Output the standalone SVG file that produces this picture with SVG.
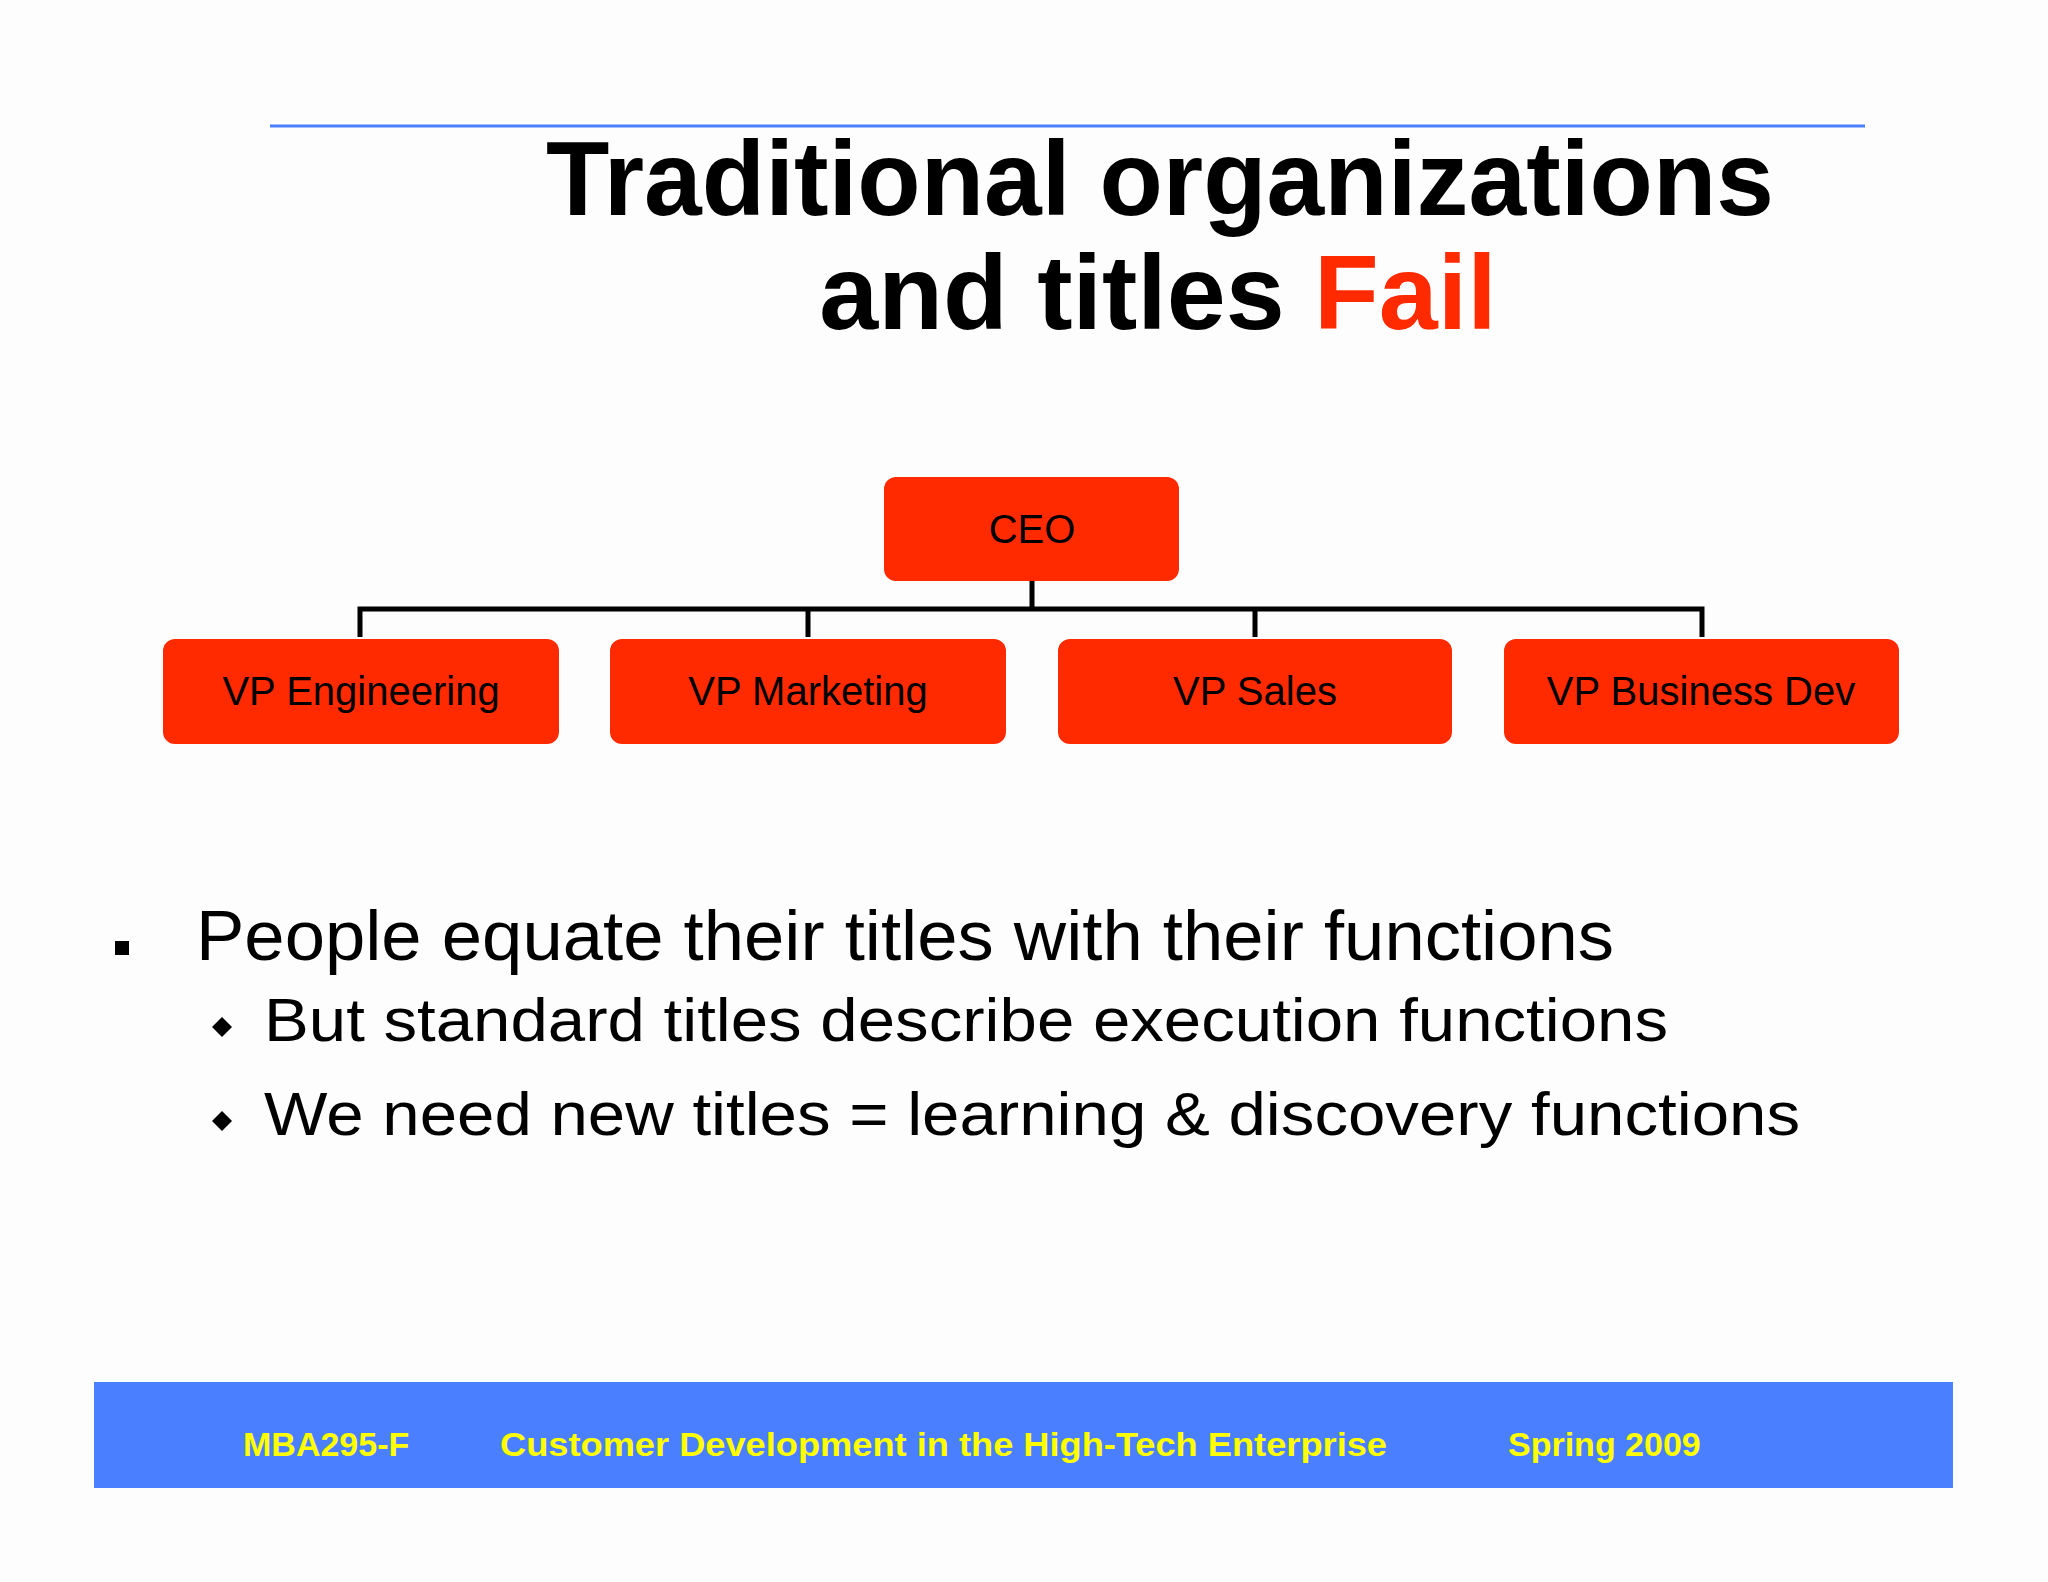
<svg xmlns="http://www.w3.org/2000/svg" width="2048" height="1582" viewBox="0 0 2048 1582">
<style>
.box{fill:#FF2A00}
.bt{font-family:"Liberation Sans",Arial,sans-serif;font-size:40px;fill:#000;text-anchor:middle}
.t{font-family:"Liberation Sans",Arial,sans-serif;font-weight:bold;font-size:106px;text-anchor:middle}
.b{font-family:"Liberation Sans",Arial,sans-serif;fill:#000}
.f{font-family:"Liberation Sans",Arial,sans-serif;font-weight:bold;font-size:34px;fill:#FFFF00}
.c{stroke:#000;stroke-width:5;fill:none}
</style>
<rect width="2048" height="1582" fill="#FDFDFD"/>
<line x1="270" y1="126" x2="1865" y2="126" stroke="#4A80FF" stroke-width="3"/>
<text class="t" x="1160" y="215" textLength="1228" lengthAdjust="spacingAndGlyphs">Traditional organizations</text>
<text class="t" x="1158" y="329">and titles <tspan fill="#FF2A00">Fail</tspan></text>
<g id="connectors">
<path class="c" d="M1032 581V609M360 637V609H1702V637M808 609V637M1255 609V637"/>
</g>
<g id="ceo"><rect class="box" x="884" y="477" width="295" height="104" rx="12"/><text class="bt" x="1032" y="543">CEO</text></g>
<g id="vpeng"><rect class="box" x="163" y="639" width="396" height="105" rx="12"/><text class="bt" x="361" y="705">VP Engineering</text></g>
<g id="vpmkt"><rect class="box" x="610" y="639" width="396" height="105" rx="12"/><text class="bt" x="808" y="705">VP Marketing</text></g>
<g id="vpsales"><rect class="box" x="1058" y="639" width="394" height="105" rx="12"/><text class="bt" x="1255" y="705">VP Sales</text></g>
<g id="vpbd"><rect class="box" x="1504" y="639" width="395" height="105" rx="12"/><text class="bt" x="1701" y="705">VP Business Dev</text></g>
<rect x="115" y="941" width="14" height="14" fill="#000"/>
<text class="b" x="196" y="960" font-size="70" textLength="1418" lengthAdjust="spacingAndGlyphs">People equate their titles with their functions</text>
<path d="M222 1017l10 10-10 10-10-10z" fill="#000"/>
<text class="b" x="264" y="1041" font-size="62" textLength="1404" lengthAdjust="spacingAndGlyphs">But standard titles describe execution functions</text>
<path d="M222 1111l10 10-10 10-10-10z" fill="#000"/>
<text class="b" x="264" y="1135" font-size="62" textLength="1536" lengthAdjust="spacingAndGlyphs">We need new titles = learning &amp; discovery functions</text>
<rect x="94" y="1382" width="1859" height="106" fill="#4A80FF"/>
<text class="f" x="243" y="1456">MBA295-F</text>
<text class="f" x="500" y="1456" textLength="887" lengthAdjust="spacingAndGlyphs">Customer Development in the High-Tech Enterprise</text>
<text class="f" x="1508" y="1456">Spring 2009</text>
</svg>
